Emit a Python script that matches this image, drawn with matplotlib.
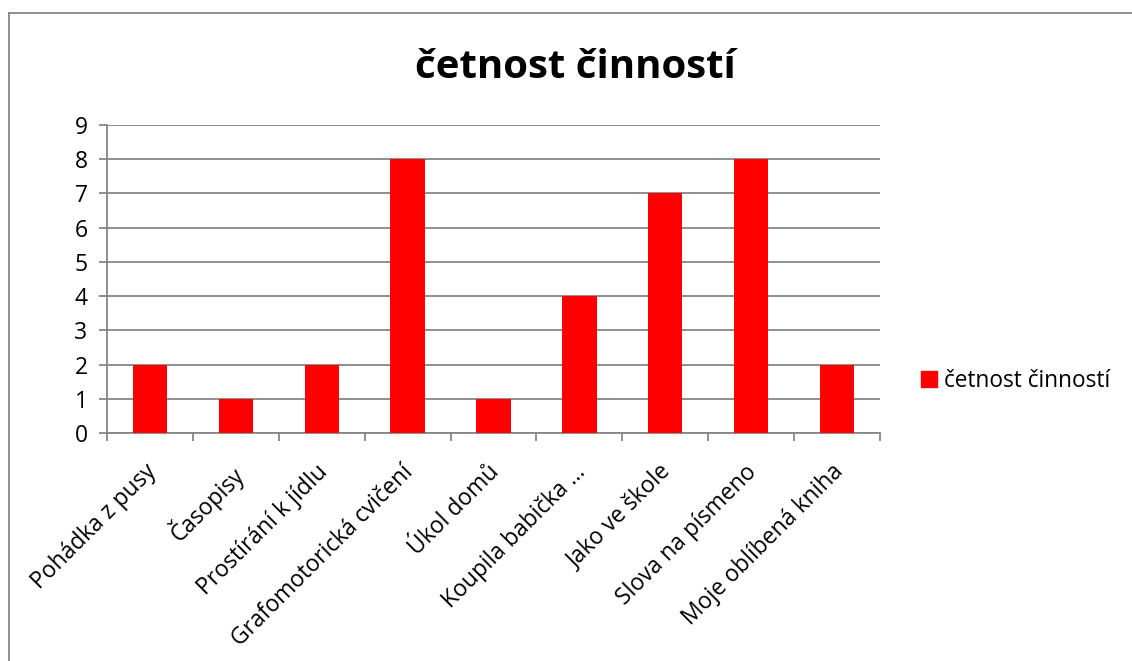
import matplotlib
matplotlib.use("Agg")
import matplotlib.pyplot as plt
import matplotlib.transforms as mtransforms
from matplotlib.lines import Line2D
from matplotlib.patches import Patch

plt.rcParams['font.family'] = ['Open Sans', 'DejaVu Sans']

categories = ["Pohádka z pusy", "Časopisy", "Prostírání k jídlu",
              "Grafomotorická cvičení", "Úkol domů", "Koupila babička …",
              "Jako ve škole", "Slova na písmeno", "Moje oblíbená kniha"]
values = [2, 1, 2, 8, 1, 4, 7, 8, 2]
series_name = "četnost činností"
title = "četnost činností"

W, H = 1132, 661
fig = plt.figure(figsize=(W / 100, H / 100), dpi=100)
fig.patch.set_facecolor("white")

grid_c = "#868686"

# chart area frame (left and top edges visible)
fig.add_artist(Line2D([9 / W, 9 / W], [1 - 12.5 / H, 0], color=grid_c, lw=1.3))
fig.add_artist(Line2D([9 / W, 1], [1 - 12.5 / H, 1 - 12.5 / H], color=grid_c, lw=1.3))

ax = fig.add_axes([107 / W, 1 - 433 / H, (880 - 107) / W, (433 - 125) / H])
x = list(range(len(categories)))
ax.bar(x, values, width=0.4, color="#ff0000", zorder=3)
ax.set_xlim(-0.5, len(categories) - 0.5)
ax.set_ylim(0, 9)
ax.set_yticks(range(0, 10))
ax.yaxis.grid(True, color=grid_c, lw=1.3, zorder=0)
for s in ["top", "right"]:
    ax.spines[s].set_visible(False)
for s in ["left", "bottom"]:
    ax.spines[s].set_color(grid_c)
    ax.spines[s].set_linewidth(1.3)

ax.set_xticks([i - 0.5 for i in range(len(categories) + 1)], minor=False)
ax.set_xticklabels([])
ax.set_xticks(x, minor=True)
ax.set_xticklabels(categories, minor=True, rotation=45, ha="right",
                   va="top", rotation_mode="anchor", fontsize=16.5)
ax.tick_params(axis="x", which="major", length=6, color=grid_c, width=1.3)
ax.tick_params(axis="x", which="minor", length=0, pad=18)
ax.tick_params(axis="y", length=6, color=grid_c, width=1.3, labelsize=16.5, pad=8)

shift = mtransforms.ScaledTranslation(-6 / 100, -2 / 100, fig.dpi_scale_trans)
for lbl in ax.get_xticklabels(minor=True):
    lbl.set_transform(lbl.get_transform() + shift)

fig.text(575 / W, 1 - 68 / H, title, ha="center", va="center",
         fontsize=29, fontweight="bold")

fig.legend(handles=[Patch(color="#ff0000", label=series_name)],
           loc="center left", bbox_to_anchor=(921 / W, 1 - 381 / H),
           frameon=False, fontsize=16.3, handlelength=0.7, handleheight=0.7,
           handletextpad=0.3, borderpad=0, borderaxespad=0)

fig.savefig("out.png", dpi=100)
